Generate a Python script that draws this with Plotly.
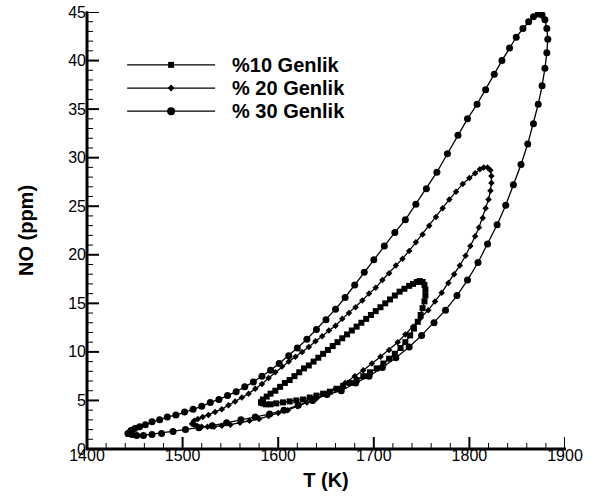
import plotly.graph_objects as go

# ---------------- data ----------------
series_names = ["%10 Genlik", "% 20 Genlik", "% 30 Genlik"]

t_10 = [1582, 1584, 1588, 1592, 1597, 1602, 1607, 1612, 1617, 1622, 1627, 1632, 1637, 1642, 1647,
        1652, 1657, 1662, 1667, 1672, 1677, 1682, 1687, 1692, 1697, 1702, 1707, 1712, 1717, 1722,
        1727, 1732, 1737, 1741, 1745, 1748, 1751,
        1753, 1754, 1754, 1753, 1751, 1749, 1746, 1742, 1738, 1733, 1728, 1722, 1716, 1710, 1703,
        1696, 1689, 1682, 1675, 1668, 1661, 1654, 1647, 1640, 1633, 1626, 1619, 1612, 1605, 1598,
        1592, 1587, 1584, 1582]
no_10 = [4.8, 5.1, 5.4, 5.7, 6.0, 6.4, 6.8, 7.1, 7.5, 7.9, 8.3, 8.6, 9.0, 9.4, 9.8,
         10.2, 10.6, 11.0, 11.4, 11.8, 12.2, 12.6, 13.0, 13.4, 13.8, 14.2, 14.6, 15.0, 15.4, 15.8,
         16.2, 16.5, 16.8, 17.0, 17.2, 17.3, 17.2,
         16.9, 16.4, 15.8, 15.2, 14.5, 13.8, 13.1, 12.4, 11.7, 11.0, 10.4, 9.8, 9.3, 8.8, 8.3,
         7.9, 7.5, 7.1, 6.8, 6.5, 6.2, 5.9, 5.7, 5.5, 5.3, 5.1, 5.0, 4.9, 4.8, 4.7,
         4.6, 4.6, 4.7, 4.8]

t_20 = [1510, 1512, 1516, 1521, 1527, 1534, 1541, 1548, 1555, 1562, 1569, 1576, 1583, 1590, 1597,
        1604, 1611, 1618, 1625, 1632, 1639, 1646, 1653, 1660, 1667, 1674, 1681, 1688, 1695, 1702,
        1709, 1716, 1723, 1730, 1737, 1744, 1751, 1758, 1765, 1772, 1779, 1786, 1793, 1800, 1806,
        1811, 1815, 1819, 1822,
        1823, 1823, 1822, 1820, 1817, 1814, 1810, 1806, 1801, 1796, 1790, 1784, 1778, 1771, 1764,
        1757, 1749, 1741, 1733, 1725, 1716, 1707, 1698, 1689, 1680, 1670, 1660, 1650, 1640, 1630,
        1620, 1610, 1600, 1590, 1580, 1570, 1560, 1550, 1541, 1533, 1526, 1520, 1515, 1512, 1510]
no_20 = [2.6, 2.9, 3.1, 3.3, 3.5, 3.8, 4.1, 4.5, 4.9, 5.3, 5.7, 6.2, 6.7, 7.3, 7.9,
         8.5, 9.0, 9.5, 10.0, 10.5, 11.1, 11.6, 12.2, 12.7, 13.4, 14.0, 14.6, 15.3, 16.0, 16.6,
         17.4, 18.1, 18.9, 19.6, 20.4, 21.3, 22.1, 23.0, 23.9, 24.8, 25.7, 26.5, 27.3, 27.9, 28.4,
         28.8, 29.0, 29.0, 28.7,
         28.1, 27.4, 26.6, 25.7, 24.8, 23.8, 22.8, 21.9, 20.9, 19.9, 18.9, 18.0, 17.1, 16.1, 15.2,
         14.3, 13.5, 12.6, 11.8, 11.0, 10.2, 9.5, 8.8, 8.1, 7.5, 6.8, 6.2, 5.7, 5.2, 4.8,
         4.4, 4.0, 3.7, 3.4, 3.1, 2.9, 2.7, 2.5, 2.4, 2.3, 2.3, 2.3, 2.4, 2.5, 2.6]

t_30 = [1443, 1446, 1450, 1455, 1461, 1468, 1476, 1484, 1493, 1502, 1511, 1520, 1529, 1538, 1547,
        1556, 1565, 1574, 1583, 1592, 1601, 1611, 1620, 1630, 1640, 1650, 1660, 1670, 1680, 1690,
        1700, 1711, 1722, 1733, 1744, 1755, 1766, 1777, 1788, 1798, 1808, 1817, 1826, 1834, 1842,
        1849, 1856, 1862, 1867, 1872, 1876,
        1879, 1881, 1882, 1881, 1879, 1876, 1872, 1867, 1861, 1854, 1846, 1838, 1829, 1819, 1809,
        1798, 1787, 1775, 1763, 1750, 1737, 1723, 1709, 1695, 1681, 1666, 1651, 1636, 1621, 1606,
        1591, 1576, 1561, 1546, 1531, 1517, 1503, 1490, 1478, 1468, 1459, 1452, 1447, 1443]
no_30 = [1.6, 1.9, 2.1, 2.3, 2.5, 2.8, 3.0, 3.3, 3.5, 3.8, 4.1, 4.4, 4.8, 5.1, 5.5,
         5.9, 6.4, 6.9, 7.5, 8.1, 8.8, 9.6, 10.4, 11.3, 12.3, 13.3, 14.4, 15.6, 16.9, 18.2,
         19.5, 20.9, 22.3, 23.6, 25.2, 26.8, 28.5, 30.4, 32.3, 34.0, 35.5, 37.0, 38.6, 40.0, 41.3,
         42.4, 43.3, 44.0, 44.5, 44.8, 44.7,
         44.2, 43.3, 42.2, 40.8, 39.2, 37.4, 35.5, 33.5, 31.4, 29.3, 27.2, 25.1, 23.1, 21.1, 19.2,
         17.4, 15.8, 14.3, 13.0, 11.7, 10.5, 9.4, 8.4, 7.5, 6.8, 6.0, 5.6, 5.0, 4.5, 4.0,
         3.6, 3.3, 3.0, 2.7, 2.4, 2.2, 2.0, 1.8, 1.6, 1.5, 1.4, 1.4, 1.5, 1.6]

x_ticks = [1400, 1500, 1600, 1700, 1800, 1900]
y_ticks = [0, 5, 10, 15, 20, 25, 30, 35, 40, 45]
x_minor_step = 20
y_minor_step = 1

# legend sample positions (fractions of the plot area)
legend_line_x = [0.084, 0.268]
legend_marker_x = 0.176
legend_y = [0.879, 0.826, 0.773]
legend_text_x = 0.299

# ---------------- style ----------------
FONT = "Liberation Sans, Arial, sans-serif"
symbols = ["square", "diamond", "circle"]
msizes = [6, 5, 7]
BLACK = "#000000"
W, H = 595, 497
M = dict(l=87, r=30, t=12, b=48)
x_lo, x_hi = x_ticks[0], x_ticks[-1]
y_lo, y_hi = y_ticks[0], y_ticks[-1]
# pixel -> data unit factors, for tick-mark lengths
kx = (x_hi - x_lo) / (W - M["l"] - M["r"])
ky = (y_hi - y_lo) / (H - M["t"] - M["b"])

fig = go.Figure()
for t, n, sym, ms in zip([t_10, t_20, t_30], [no_10, no_20, no_30], symbols, msizes):
    fig.add_trace(go.Scatter(
        x=t, y=n, mode="lines+markers",
        line=dict(color=BLACK, width=1.3),
        marker=dict(symbol=sym, size=ms, color=BLACK, line=dict(width=0)),
        showlegend=False, hoverinfo="skip"))

# inward tick marks as line traces, positioned through the axes' own scales
def tick_trace(width, major):
    xs, ys = [], []
    for v in range(x_lo, x_hi + 1, x_minor_step):
        if (v in x_ticks) == major:
            L = (12 if major else 6) * ky
            xs += [v, v, None]
            ys += [y_lo, y_lo + L, None]
    for v in range(y_lo, y_hi + 1, y_minor_step):
        if (v in y_ticks) == major:
            L = (12 if major else 6) * kx
            xs += [x_lo, x_lo + L, None]
            ys += [v, v, None]
    return go.Scatter(x=xs, y=ys, mode="lines", line=dict(color=BLACK, width=width),
                      showlegend=False, hoverinfo="skip", connectgaps=False)

fig.add_trace(tick_trace(1, False))
fig.add_trace(tick_trace(2, True))

# manual legend (line sample + glyph + label) in plot-area coordinates
for name, sym, ly in zip(series_names, symbols, legend_y):
    fig.add_shape(type="line", xref="paper", yref="paper",
                  x0=legend_line_x[0], x1=legend_line_x[1], y0=ly, y1=ly,
                  line=dict(color=BLACK, width=1.3))
    glyph = dict(xref="paper", yref="paper", xsizemode="pixel", ysizemode="pixel",
                 xanchor=legend_marker_x, yanchor=ly,
                 fillcolor=BLACK, line=dict(color=BLACK, width=0))
    if sym == "square":
        fig.add_shape(type="rect", x0=-3, x1=3, y0=-3, y1=3, **glyph)
    elif sym == "diamond":
        fig.add_shape(type="path", path="M0,3.5 L3.5,0 L0,-3.5 L-3.5,0 Z", **glyph)
    else:
        fig.add_shape(type="circle", x0=-4, x1=4, y0=-4, y1=4, **glyph)
    fig.add_annotation(
        x=legend_text_x, y=ly, xref="paper", yref="paper", text=f"<b>{name}</b>",
        showarrow=False, xanchor="left", yanchor="middle",
        font=dict(family=FONT, size=20, color=BLACK))

# axis frame lines (left and bottom)
fig.add_shape(type="line", xref="paper", yref="paper", x0=-0.002, x1=1.002, y0=0, y1=0,
              line=dict(color=BLACK, width=3))
fig.add_shape(type="line", xref="paper", yref="paper", x0=0, x1=0, y0=-0.002, y1=1.002,
              line=dict(color=BLACK, width=3))

fig.update_layout(
    template="none",
    width=W, height=H,
    margin=dict(**M, autoexpand=False),
    paper_bgcolor="white", plot_bgcolor="white",
)
fig.update_xaxes(
    range=[x_lo, x_hi], tickmode="array", tickvals=x_ticks,
    showgrid=False, zeroline=False, showline=False, ticks="",
    ticklabelstandoff=-5, automargin=False,
    tickfont=dict(family=FONT, size=16, color=BLACK),
    title=dict(text="<b>T (K)</b>", font=dict(family=FONT, size=20, color=BLACK), standoff=9),
)
fig.update_yaxes(
    range=[y_lo, y_hi], tickmode="array", tickvals=y_ticks,
    showgrid=False, zeroline=False, showline=False, ticks="", automargin=False,
    tickfont=dict(family=FONT, size=16, color=BLACK),
    title=dict(text="<b>NO (ppm)</b>", font=dict(family=FONT, size=20, color=BLACK), standoff=29),
)

fig.write_html("out.html")
